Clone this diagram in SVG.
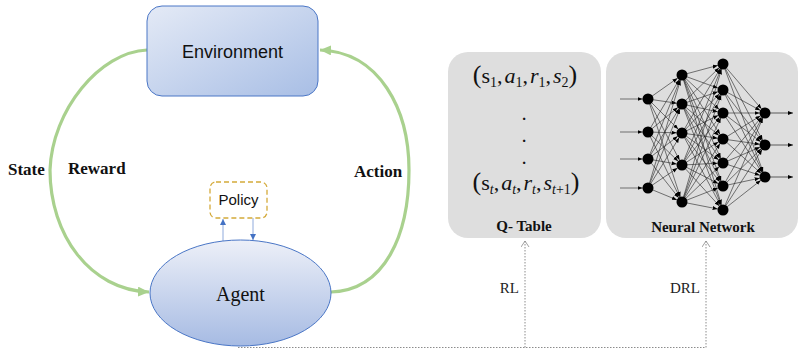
<svg xmlns="http://www.w3.org/2000/svg" width="803" height="350" viewBox="0 0 803 350">
<defs>
<linearGradient id="gEnv" x1="0" y1="0" x2="1" y2="1"><stop offset="0" stop-color="#e4eaf6"/><stop offset="1" stop-color="#a8bee5"/></linearGradient>
<linearGradient id="gAg" x1="0" y1="0" x2="0" y2="1"><stop offset="0" stop-color="#edf0f8"/><stop offset="1" stop-color="#a6bbe3"/></linearGradient>
<linearGradient id="gTop" x1="0" y1="0" x2="1" y2="0"><stop offset="0" stop-color="#b8b8b8"/><stop offset="1" stop-color="#dcdcdc"/></linearGradient>
<marker id="mGreen" markerUnits="userSpaceOnUse" markerWidth="12" markerHeight="12" refX="11" refY="5" orient="auto"><path d="M0,0 L11,5 L0,10 z" fill="#a9d18e"/></marker>
<marker id="mBlue" markerUnits="userSpaceOnUse" markerWidth="8" markerHeight="8" refX="6" refY="3" orient="auto"><path d="M0,0 L6,3 L0,6 z" fill="#4472c4"/></marker>
<marker id="mOpen" markerUnits="userSpaceOnUse" markerWidth="10" markerHeight="10" refX="6" refY="4" orient="auto"><path d="M0,0 L6,4 L0,8" fill="none" stroke="#888" stroke-width="0.8"/></marker>
<marker id="mNN" markerUnits="userSpaceOnUse" markerWidth="16" markerHeight="8" refX="10.5" refY="2" orient="auto"><path d="M0,0 L5,2 L0,4 z" fill="#000"/></marker>
<marker id="mOut" markerUnits="userSpaceOnUse" markerWidth="8" markerHeight="8" refX="5" refY="2" orient="auto"><path d="M0,0 L5,2 L0,4 z" fill="#000"/></marker>
</defs>
<style>
.serif{font-family:"Liberation Serif","Times New Roman",serif}
.sans{font-family:"Liberation Sans",Arial,sans-serif}
.lbl{font-family:"Liberation Serif",serif;font-weight:bold;font-size:17px;fill:#111}
.green{fill:none;stroke:#a9d18e;stroke-width:3.2;marker-end:url(#mGreen)}
.dot{fill:none;stroke:#8c8c8c;stroke-width:1;stroke-dasharray:1.5 1.5}
.nn line{stroke:#222;stroke-width:0.6;marker-end:url(#mNN)}
.node{fill:#000}
.box{fill:#dedede}
.math{font-family:"Liberation Serif","Times New Roman",serif;font-size:22px;fill:#111}
.dots{font-family:"Liberation Serif","Times New Roman",serif;font-size:15px;font-weight:bold;fill:#111}
</style>

<line x1="49" y1="6" x2="418" y2="6" stroke="url(#gTop)" stroke-width="1"/>

<g id="connectors">
<path class="green" d="M147,50 C100,52 52,110 50,170 C50,235 90,290 149,292"/>
<path class="green" d="M331,292 C385,290 409,235 409,170 C409,110 380,52 320,50"/>
<line x1="223" y1="241" x2="223" y2="219" stroke="#8faadc" stroke-width="1" marker-end="url(#mBlue)"/>
<line x1="253" y1="218" x2="253" y2="240" stroke="#8faadc" stroke-width="1" marker-end="url(#mBlue)"/>
<path class="dot" d="M238,347.5 H706 M525,347.5 V241" marker-end="url(#mOpen)"/>
<path class="dot" d="M706,347.5 V241" marker-end="url(#mOpen)"/>
</g>

<g id="labels">
<text class="lbl" x="8" y="175">State</text>
<text class="lbl" x="68" y="174">Reward</text>
<text class="lbl" x="354" y="177">Action</text>
<text class="serif" x="519" y="293" font-size="15" text-anchor="end" fill="#222">RL</text>
<text class="serif" x="700" y="293" font-size="15" text-anchor="end" fill="#222">DRL</text>
</g>

<g id="environment">
<rect x="147" y="6" width="171" height="90" rx="15" fill="url(#gEnv)" stroke="#4a76c6" stroke-width="1"/>
<text class="sans" x="232.5" y="58" font-size="18" text-anchor="middle" fill="#111">Environment</text>
</g>

<g id="policy">
<rect x="210" y="182" width="57" height="36" rx="6" fill="#fff" stroke="#d4aa3a" stroke-width="1.3" stroke-dasharray="5 3"/>
<text class="sans" x="238.5" y="205" font-size="15" text-anchor="middle" fill="#111">Policy</text>
</g>

<g id="agent">
<ellipse cx="240.5" cy="293" rx="90.5" ry="53" fill="url(#gAg)" stroke="#4a76c6" stroke-width="1"/>
<text class="serif" x="240.5" y="301" font-size="20" text-anchor="middle" fill="#111">Agent</text>
</g>

<g id="qtable">
<rect class="box" x="448" y="52" width="153" height="186" rx="20"/>
<text class="math" x="525" y="83" text-anchor="middle"><tspan font-size="26">(</tspan>s<tspan font-size="14" dy="4">1</tspan><tspan dy="-4">,</tspan><tspan font-style="italic" dx="2">a</tspan><tspan font-size="14" dy="4">1</tspan><tspan dy="-4">,</tspan><tspan font-style="italic" dx="2">r</tspan><tspan font-size="14" dy="4">1</tspan><tspan dy="-4">,</tspan><tspan font-style="italic" dx="2">s</tspan><tspan font-size="14" dy="4">2</tspan><tspan font-size="26" dy="-4">)</tspan></text>
<text class="dots" text-anchor="middle"><tspan x="524" y="120">.</tspan><tspan x="524" y="142">.</tspan><tspan x="524" y="164">.</tspan></text>
<text class="math" x="526" y="190" text-anchor="middle"><tspan font-size="26">(</tspan>s<tspan font-size="14" font-style="italic" dy="4">t</tspan><tspan dy="-4">,</tspan><tspan font-style="italic" dx="2">a</tspan><tspan font-size="14" font-style="italic" dy="4">t</tspan><tspan dy="-4">,</tspan><tspan font-style="italic" dx="2">r</tspan><tspan font-size="14" font-style="italic" dy="4">t</tspan><tspan dy="-4">,</tspan><tspan font-style="italic" dx="2">s</tspan><tspan font-size="14" dy="4"><tspan font-style="italic">t</tspan>+1</tspan><tspan font-size="26" dy="-4">)</tspan></text>
<text class="serif" x="524" y="231" font-size="15" font-weight="bold" text-anchor="middle" fill="#111">Q- Table</text>
</g>

<g id="neuralnet">
<rect class="box" x="606" y="52" width="192" height="186" rx="20"/>
<g class="nn">
<line x1="620" y1="99" x2="648" y2="99"/><line x1="620" y1="132" x2="648" y2="132"/><line x1="620" y1="159" x2="648" y2="159"/><line x1="620" y1="188" x2="648" y2="188"/>
<line x1="648" y1="99" x2="682" y2="75"/><line x1="648" y1="99" x2="682" y2="104"/><line x1="648" y1="99" x2="682" y2="133"/><line x1="648" y1="99" x2="682" y2="165"/><line x1="648" y1="99" x2="682" y2="202"/>
<line x1="648" y1="132" x2="682" y2="75"/><line x1="648" y1="132" x2="682" y2="104"/><line x1="648" y1="132" x2="682" y2="133"/><line x1="648" y1="132" x2="682" y2="165"/><line x1="648" y1="132" x2="682" y2="202"/>
<line x1="648" y1="159" x2="682" y2="75"/><line x1="648" y1="159" x2="682" y2="104"/><line x1="648" y1="159" x2="682" y2="133"/><line x1="648" y1="159" x2="682" y2="165"/><line x1="648" y1="159" x2="682" y2="202"/>
<line x1="648" y1="188" x2="682" y2="75"/><line x1="648" y1="188" x2="682" y2="104"/><line x1="648" y1="188" x2="682" y2="133"/><line x1="648" y1="188" x2="682" y2="165"/><line x1="648" y1="188" x2="682" y2="202"/>
<line x1="682" y1="75" x2="723" y2="64"/><line x1="682" y1="75" x2="723" y2="90"/><line x1="682" y1="75" x2="723" y2="113"/><line x1="682" y1="75" x2="723" y2="139"/><line x1="682" y1="75" x2="723" y2="163"/><line x1="682" y1="75" x2="723" y2="186"/><line x1="682" y1="75" x2="723" y2="210"/>
<line x1="682" y1="104" x2="723" y2="64"/><line x1="682" y1="104" x2="723" y2="90"/><line x1="682" y1="104" x2="723" y2="113"/><line x1="682" y1="104" x2="723" y2="139"/><line x1="682" y1="104" x2="723" y2="163"/><line x1="682" y1="104" x2="723" y2="186"/><line x1="682" y1="104" x2="723" y2="210"/>
<line x1="682" y1="133" x2="723" y2="64"/><line x1="682" y1="133" x2="723" y2="90"/><line x1="682" y1="133" x2="723" y2="113"/><line x1="682" y1="133" x2="723" y2="139"/><line x1="682" y1="133" x2="723" y2="163"/><line x1="682" y1="133" x2="723" y2="186"/><line x1="682" y1="133" x2="723" y2="210"/>
<line x1="682" y1="165" x2="723" y2="64"/><line x1="682" y1="165" x2="723" y2="90"/><line x1="682" y1="165" x2="723" y2="113"/><line x1="682" y1="165" x2="723" y2="139"/><line x1="682" y1="165" x2="723" y2="163"/><line x1="682" y1="165" x2="723" y2="186"/><line x1="682" y1="165" x2="723" y2="210"/>
<line x1="682" y1="202" x2="723" y2="64"/><line x1="682" y1="202" x2="723" y2="90"/><line x1="682" y1="202" x2="723" y2="113"/><line x1="682" y1="202" x2="723" y2="139"/><line x1="682" y1="202" x2="723" y2="163"/><line x1="682" y1="202" x2="723" y2="186"/><line x1="682" y1="202" x2="723" y2="210"/>
<line x1="723" y1="64" x2="765" y2="113"/><line x1="723" y1="64" x2="765" y2="145"/><line x1="723" y1="64" x2="765" y2="177"/>
<line x1="723" y1="90" x2="765" y2="113"/><line x1="723" y1="90" x2="765" y2="145"/><line x1="723" y1="90" x2="765" y2="177"/>
<line x1="723" y1="113" x2="765" y2="113"/><line x1="723" y1="113" x2="765" y2="145"/><line x1="723" y1="113" x2="765" y2="177"/>
<line x1="723" y1="139" x2="765" y2="113"/><line x1="723" y1="139" x2="765" y2="145"/><line x1="723" y1="139" x2="765" y2="177"/>
<line x1="723" y1="163" x2="765" y2="113"/><line x1="723" y1="163" x2="765" y2="145"/><line x1="723" y1="163" x2="765" y2="177"/>
<line x1="723" y1="186" x2="765" y2="113"/><line x1="723" y1="186" x2="765" y2="145"/><line x1="723" y1="186" x2="765" y2="177"/>
<line x1="723" y1="210" x2="765" y2="113"/><line x1="723" y1="210" x2="765" y2="145"/><line x1="723" y1="210" x2="765" y2="177"/>
</g>
<g stroke="#222" stroke-width="0.7">
<line x1="765" y1="113" x2="793" y2="113" marker-end="url(#mOut)"/><line x1="765" y1="145" x2="793" y2="145" marker-end="url(#mOut)"/><line x1="765" y1="177" x2="793" y2="177" marker-end="url(#mOut)"/>
</g>
<g class="node">
<circle cx="648" cy="99" r="5.5"/><circle cx="648" cy="132" r="5.5"/><circle cx="648" cy="159" r="5.5"/><circle cx="648" cy="188" r="5.5"/>
<circle cx="682" cy="75" r="5.5"/><circle cx="682" cy="104" r="5.5"/><circle cx="682" cy="133" r="5.5"/><circle cx="682" cy="165" r="5.5"/><circle cx="682" cy="202" r="5.5"/>
<circle cx="723" cy="64" r="5.5"/><circle cx="723" cy="90" r="5.5"/><circle cx="723" cy="113" r="5.5"/><circle cx="723" cy="139" r="5.5"/><circle cx="723" cy="163" r="5.5"/><circle cx="723" cy="186" r="5.5"/><circle cx="723" cy="210" r="5.5"/>
<circle cx="765" cy="113" r="5.5"/><circle cx="765" cy="145" r="5.5"/><circle cx="765" cy="177" r="5.5"/>
</g>
<text class="serif" x="703" y="232" font-size="15" font-weight="bold" text-anchor="middle" fill="#111">Neural Network</text>
</g>
</svg>
